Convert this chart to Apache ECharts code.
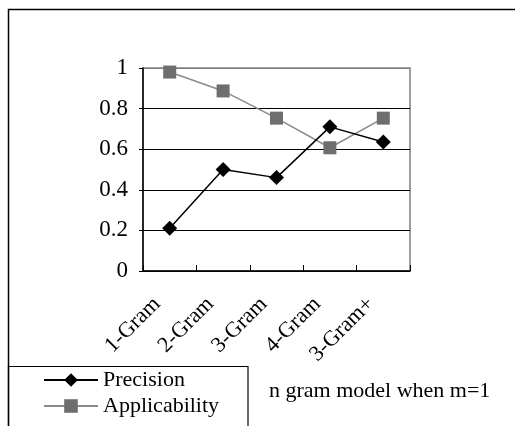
<!DOCTYPE html>
<html><head><meta charset="utf-8">
<script src="https://cdn.jsdelivr.net/npm/echarts@6/dist/echarts.min.js"></script>
<style>html,body{margin:0;padding:0;background:#fff}#c{width:515px;height:426px}</style>
</head><body><div id="c"></div>
<script>
const categories = ['1-Gram', '2-Gram', '3-Gram', '4-Gram', '3-Gram+'];
const precision = [0.21, 0.50, 0.46, 0.71, 0.635];
const applicability = [0.98, 0.887, 0.753, 0.607, 0.753];
const yTicks = [0, 0.2, 0.4, 0.6, 0.8, 1];
const note = 'n gram model when m=1';

const font = 'Liberation Serif';
const chart = echarts.init(document.getElementById('c'), null, {renderer: 'canvas'});
chart.setOption({
  animation: false,
  backgroundColor: '#fff',
  textStyle: {fontFamily: font, color: '#000'},
  grid: {left: 143, right: 105, top: 68, bottom: 155, show: true, borderColor: '#808080', borderWidth: 1.5, backgroundColor: 'transparent'},
  xAxis: {
    type: 'category', data: categories, boundaryGap: true,
    axisLine: {lineStyle: {color: '#000', width: 1.5}},
    axisTick: {show: true, inside: true, length: 6, alignWithLabel: false, lineStyle: {color: '#000', width: 1}},
    axisLabel: {rotate: 45, margin: 17, padding: [0, 18, 0, 0], fontFamily: font, fontSize: 22, color: '#000', interval: 0}
  },
  yAxis: {
    type: 'value', min: 0, max: 1, interval: 0.2,
    axisLine: {show: true, lineStyle: {color: '#000', width: 1.5}},
    axisTick: {show: true, inside: false, length: 4, lineStyle: {color: '#000'}},
    axisLabel: {fontFamily: font, fontSize: 23, color: '#000', margin: 15,
      formatter: v => String(yTicks.find(t => Math.abs(t - v) < 1e-9) ?? v)},
    splitLine: {show: true, lineStyle: {color: ['#000', '#000', '#000', '#000', '#000', '#808080'], width: 1}}
  },
  legend: {
    orient: 'vertical', left: 43, top: 368,
    padding: 0, itemGap: 2,
    itemWidth: 54, itemHeight: 17,
    textStyle: {fontFamily: font, fontSize: 22, color: '#000', lineHeight: 24},
    data: ['Precision', 'Applicability']
  },
  graphic: [
    {type: 'rect', silent: true, z: 100, shape: {x: 8.5, y: 9.5, width: 700, height: 700},
     style: {fill: 'none', stroke: '#000', lineWidth: 1.5}},
    {type: 'rect', silent: true, z: 100, shape: {x: 8.5, y: 366.5, width: 239.5, height: 100},
     style: {fill: 'none', stroke: '#000', lineWidth: 1.2}},
    {type: 'text', left: 269, top: 380, z: 100,
     style: {text: note, font: '22px "Liberation Serif"', fill: '#000'}}
  ],
  series: [
    {name: 'Precision', type: 'line', data: precision, symbol: 'diamond', symbolSize: 15,
     itemStyle: {color: '#000'}, lineStyle: {color: '#000', width: 1.5}, z: 3},
    {name: 'Applicability', type: 'line', data: applicability, symbol: 'rect', symbolSize: 13,
     itemStyle: {color: '#6e6e6e'}, lineStyle: {color: '#8a8a8a', width: 1.5}, z: 2}
  ]
});
</script></body></html>
